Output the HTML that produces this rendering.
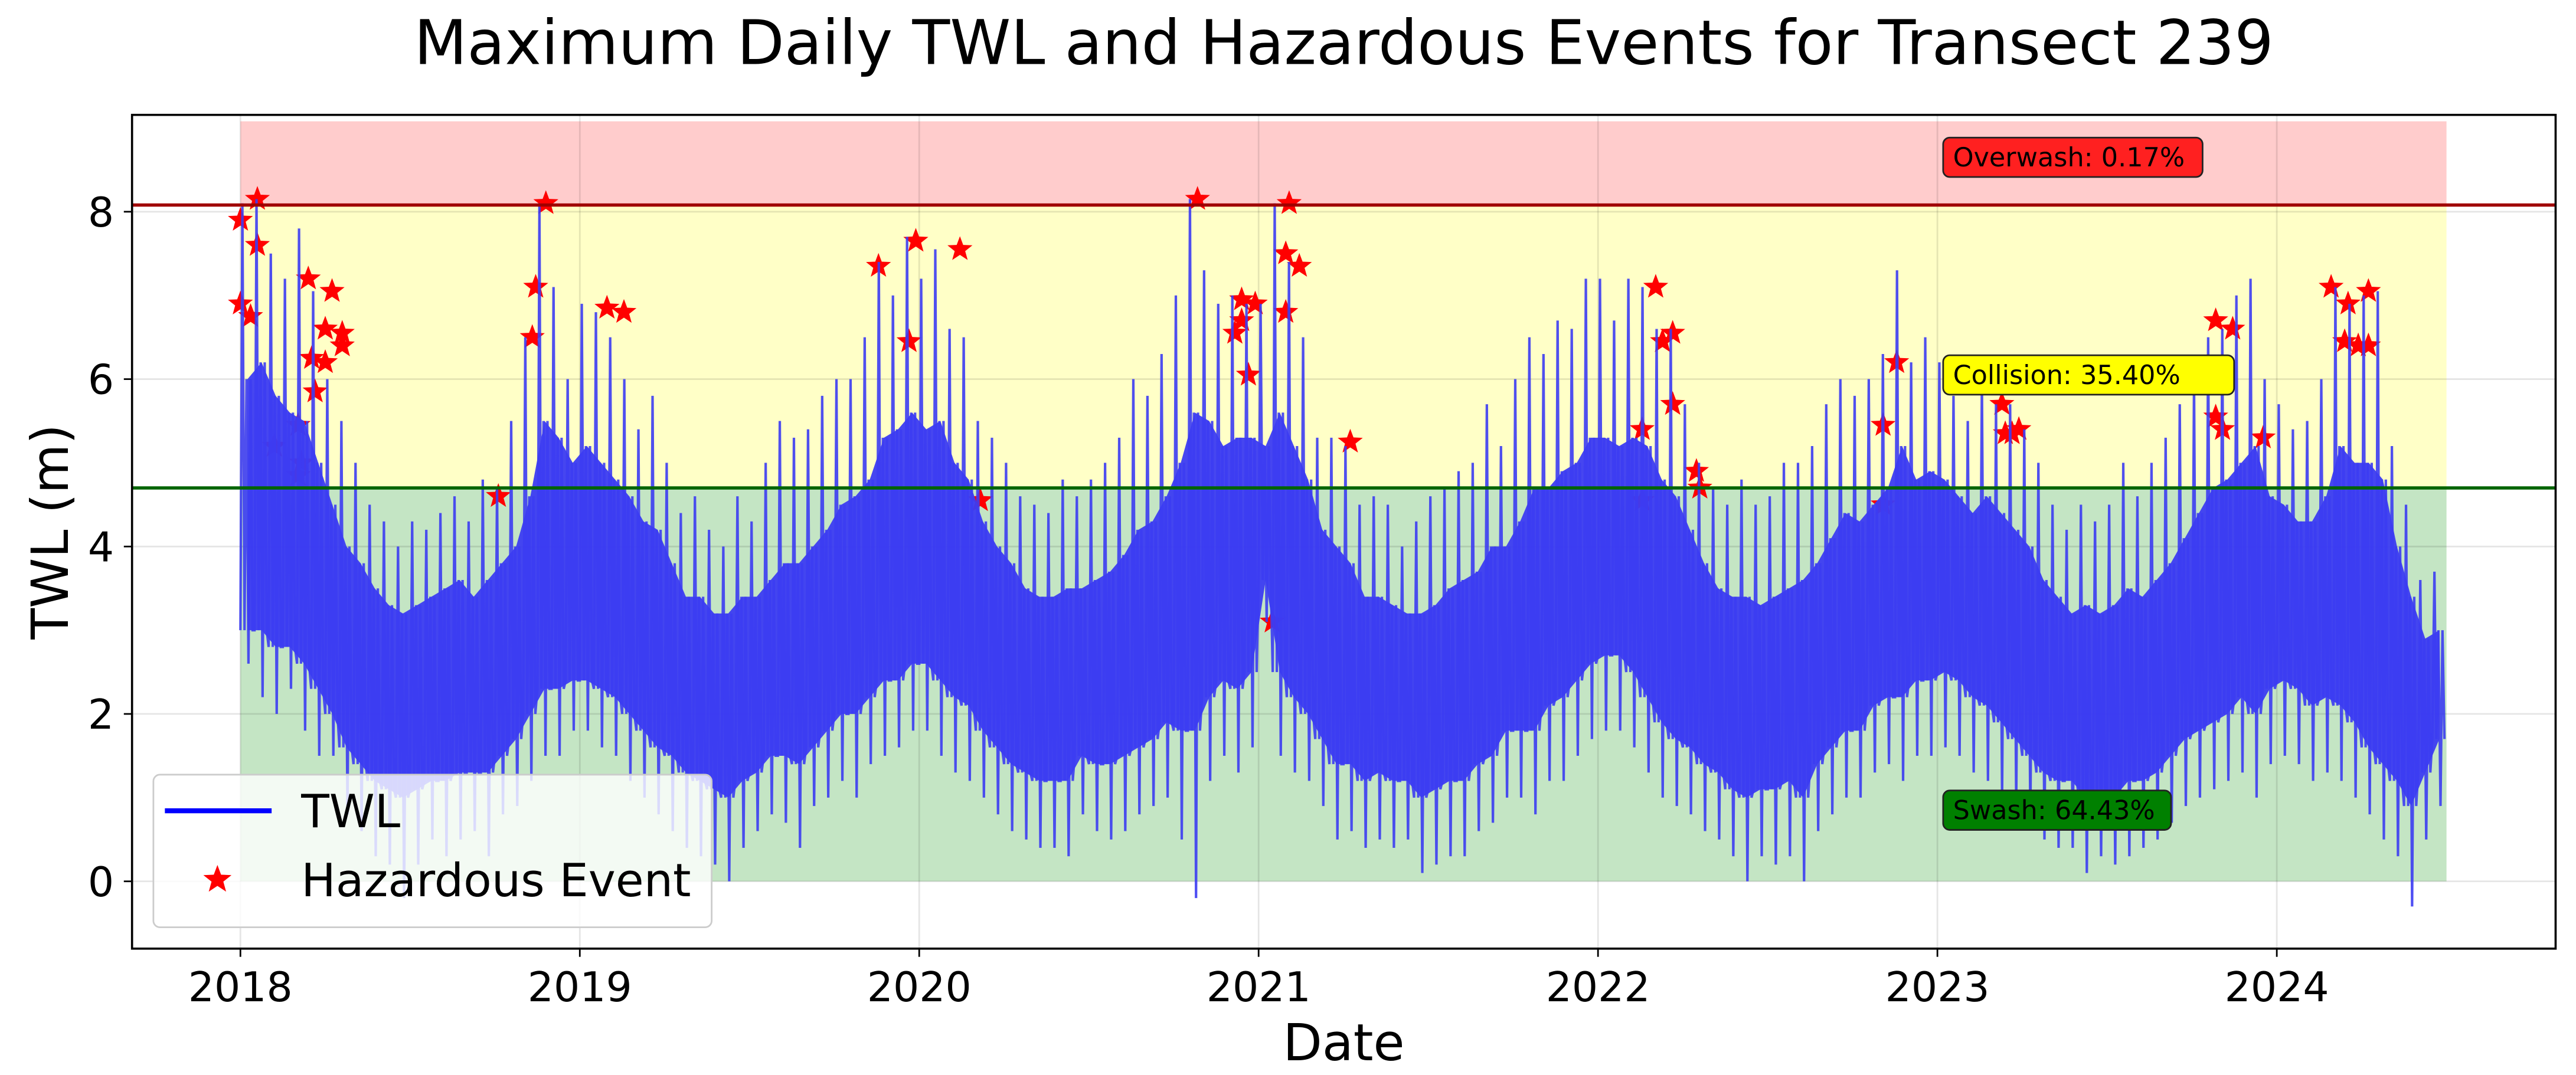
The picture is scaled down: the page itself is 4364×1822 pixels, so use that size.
<!DOCTYPE html>
<html><head><meta charset="utf-8"><style>
html,body{margin:0;padding:0;background:#fff;}
svg{display:block;font-family:"DejaVu Sans","Liberation Sans",sans-serif;}
</style></head><body>
<svg id="chart" width="4364" height="1822" viewBox="0 0 1568 655" xmlns="http://www.w3.org/2000/svg">
<rect width="1568" height="655" fill="#fff"/>
<g id="plot"></g>
</svg>
<script>
// ---- data ----
const xTicks = [2018, 2019, 2020, 2021, 2022, 2023, 2024];
const yTicks = [0, 2, 4, 6, 8];
const periodStart = 2018;
const periodsPerYear = 24;
// semi-monthly peak spikes
const twlHigh = [
8.1,8.15,7.5,7.2,7.8,7.05,6.0,5.5,5.0,4.5,4.3,4.0,4.3,4.2,4.4,4.6,4.3,4.8,4.7,5.5,6.5,8.1,7.1,6.0,
6.9,6.8,6.5,6.0,5.4,5.8,5.0,4.4,4.6,4.2,4.0,4.6,4.3,5.0,5.5,5.3,5.4,5.8,6.0,6.0,6.5,7.4,7.0,7.7,
7.2,7.55,6.6,6.5,5.5,5.3,5.0,4.6,4.5,4.4,4.8,4.6,4.8,5.0,5.3,6.0,5.8,6.3,7.0,8.15,7.3,6.9,7.0,6.9,
6.9,8.1,7.4,6.5,5.3,5.3,5.2,4.5,4.6,4.5,4.0,4.3,4.6,4.7,4.9,5.0,5.7,5.2,6.0,6.5,6.3,6.7,6.6,7.2,
7.2,6.7,7.2,7.1,6.6,6.6,5.7,5.0,4.7,4.5,4.8,4.5,4.6,5.0,5.0,5.2,5.7,6.0,5.8,6.0,6.3,7.3,6.2,6.5,
6.2,5.8,5.5,6.0,5.7,5.7,5.4,5.0,4.5,4.2,4.5,4.3,4.5,5.0,4.6,5.0,5.3,5.7,6.0,6.5,6.6,7.0,7.2,6.0,
5.7,5.4,5.5,6.0,7.1,6.9,7.0,7.05,5.2,4.5,3.6,3.7];
// semi-monthly typical upper level
const twlUpper = [
6.0,6.2,5.8,5.6,5.5,5.0,4.5,4.0,3.8,3.5,3.3,3.2,3.3,3.4,3.5,3.6,3.4,3.6,3.8,4.0,4.6,5.5,5.3,5.0,
5.2,5.0,4.8,4.6,4.3,4.2,3.8,3.4,3.4,3.2,3.2,3.4,3.4,3.6,3.8,3.8,4.0,4.2,4.5,4.6,4.8,5.3,5.4,5.6,
5.4,5.5,5.0,4.8,4.3,4.0,3.8,3.5,3.4,3.4,3.5,3.5,3.6,3.7,3.9,4.2,4.3,4.6,5.0,5.6,5.5,5.2,5.3,5.3,
5.2,5.6,5.2,4.8,4.2,4.0,3.8,3.4,3.4,3.3,3.2,3.2,3.3,3.5,3.6,3.7,4.0,4.0,4.3,4.7,4.7,4.9,5.0,5.3,
5.3,5.2,5.3,5.2,4.8,4.6,4.2,3.8,3.5,3.4,3.4,3.3,3.4,3.5,3.6,3.8,4.1,4.4,4.3,4.5,4.7,5.2,4.8,4.9,
4.8,4.6,4.4,4.6,4.4,4.2,4.0,3.6,3.4,3.2,3.3,3.2,3.3,3.5,3.4,3.6,3.8,4.1,4.4,4.7,4.8,5.0,5.2,4.6,
4.5,4.3,4.3,4.6,5.2,5.0,5.0,4.8,4.0,3.4,2.9,3.0];
// semi-monthly typical lower level
const twlFloor = [
3.0,3.0,2.8,2.8,2.6,2.3,2.0,1.6,1.4,1.2,1.1,1.0,1.1,1.2,1.2,1.3,1.3,1.3,1.5,1.7,2.0,2.3,2.3,2.4,
2.4,2.3,2.2,2.0,1.8,1.6,1.5,1.3,1.2,1.1,1.0,1.2,1.3,1.5,1.5,1.4,1.6,1.8,2.0,2.0,2.2,2.4,2.4,2.6,
2.6,2.4,2.2,2.1,1.8,1.6,1.4,1.3,1.2,1.2,1.2,1.5,1.4,1.4,1.5,1.6,1.7,1.9,1.8,1.8,2.2,2.4,2.3,2.5,
3.6,2.5,2.2,2.0,1.7,1.4,1.4,1.2,1.3,1.2,1.2,1.0,1.1,1.2,1.2,1.4,1.5,1.8,1.8,1.8,2.1,2.2,2.4,2.6,
2.7,2.7,2.5,2.2,1.9,1.7,1.6,1.4,1.3,1.1,1.0,1.1,1.1,1.2,1.0,1.4,1.6,1.8,1.8,2.1,2.2,2.2,2.4,2.4,
2.5,2.4,2.2,2.1,1.9,1.7,1.5,1.3,1.2,1.2,1.0,1.1,1.0,1.2,1.2,1.3,1.5,1.7,1.8,1.9,2.0,2.2,2.0,2.3,
2.4,2.3,2.1,2.2,2.1,1.9,1.6,1.4,1.2,0.9,1.3,1.7];
// semi-monthly minimum dips
const twlLow = [
2.6,2.2,2.0,2.3,1.8,1.5,1.5,0.8,0.6,0.3,0.2,-0.2,0.2,0.5,0.3,0.5,0.6,0.3,0.8,0.9,1.2,1.5,1.5,1.8,
1.8,1.6,1.5,1.2,1.0,0.8,0.6,0.4,0.3,0.2,0.0,0.4,0.6,0.8,0.7,0.4,0.9,1.0,1.2,1.0,1.4,1.5,1.6,1.8,
1.8,1.5,1.3,1.2,1.0,0.8,0.6,0.5,0.4,0.4,0.3,0.8,0.6,0.5,0.6,0.8,0.9,1.0,0.5,-0.2,1.2,1.5,1.3,1.6,
3.1,1.5,1.3,1.2,0.9,0.5,0.6,0.4,0.5,0.4,0.5,0.1,0.2,0.3,0.3,0.6,0.7,1.0,1.0,0.8,1.2,1.2,1.5,1.7,
1.8,1.8,1.6,1.3,1.0,0.9,0.8,0.6,0.5,0.3,0.0,0.3,0.2,0.3,0.0,0.6,0.8,1.0,1.0,1.3,1.4,1.2,1.5,1.5,
1.6,1.5,1.3,1.2,1.0,0.9,0.7,0.5,0.4,0.4,0.1,0.3,0.2,0.3,0.4,0.5,0.7,0.9,1.0,1.1,1.2,1.3,1.0,1.4,
1.5,1.4,1.2,1.3,1.2,1.0,0.8,0.5,0.3,-0.3,0.5,0.9];
const eventDates = [2018.0,2018.0,2018.03,2018.05,2018.05,2018.1,2018.17,2018.17,2018.18,2018.2,2018.21,2018.22,2018.25,2018.25,2018.27,2018.3,2018.3,2018.76,2018.86,2018.87,2018.9,
2019.08,2019.13,2019.88,2019.97,2019.99,
2020.12,2020.18,2020.82,2020.93,2020.95,2020.95,2020.97,2020.99,2021.04,2021.08,2021.08,2021.09,2021.12,2021.27,
2022.13,2022.13,2022.17,2022.19,2022.22,2022.22,2022.29,2022.3,2022.84,2022.84,2022.88,
2023.19,2023.2,2023.22,2023.24,2023.82,2023.82,2023.84,2023.87,2023.96,
2024.16,2024.2,2024.21,2024.24,2024.27,2024.27];
const eventValues = [7.9,6.9,6.75,8.15,7.6,5.2,5.45,4.85,5.0,7.2,6.25,5.85,6.6,6.2,7.05,6.55,6.4,4.6,6.5,7.1,8.1,
6.85,6.8,7.35,6.45,7.65,
7.55,4.55,8.15,6.55,6.7,6.95,6.05,6.9,3.1,6.8,7.5,8.1,7.35,5.25,
5.4,4.55,7.1,6.45,6.55,5.7,4.9,4.7,5.45,4.5,6.2,
5.7,5.35,5.35,5.4,6.7,5.55,5.4,6.6,5.3,
7.1,6.45,6.9,6.4,7.05,6.4];
const thresholds = [4.7, 8.08, 9.08];
const bandLabels = ["Swash: 64.43%", "Collision: 35.40%", "Overwash: 0.17%"];
const bandRange = [2018.0, 2024.5];

(function(){
const L=80,R=1556,T=70,B=578;
const X = t => 146 + (t-2018)*206.7;
const Y = v => 537 - v*51;
const NS="http://www.w3.org/2000/svg";
const g=document.getElementById('plot');
function el(tag,attrs,parent){const e=document.createElementNS(NS,tag);for(const k in attrs)e.setAttribute(k,attrs[k]);(parent||g).appendChild(e);return e;}

const x0=X(bandRange[0]), x1=X(bandRange[1]);
let b=el('rect',{x:x0,y:Y(thresholds[0]),width:x1-x0,height:Y(0)-Y(thresholds[0]),fill:'#2ca02c','fill-opacity':0.28});


b=el('rect',{x:x0,y:Y(thresholds[1]),width:x1-x0,height:Y(thresholds[0])-Y(thresholds[1]),fill:'#ffff00','fill-opacity':0.22});


b=el('rect',{x:x0,y:Y(thresholds[2]),width:x1-x0,height:Y(thresholds[1])-Y(thresholds[2]),fill:'#ff0000','fill-opacity':0.2});



xTicks.forEach(t=>{const l=el('line',{x1:X(t),x2:X(t),y1:T,y2:B,stroke:'#000','stroke-opacity':0.1,'stroke-width':1});

});
yTicks.forEach(v=>{const l=el('line',{x1:L,x2:R,y1:Y(v),y2:Y(v),stroke:'#000','stroke-opacity':0.1,'stroke-width':1});

});

function starPath(cx,cy,r){let p='';for(let i=0;i<10;i++){const a=-Math.PI/2+i*Math.PI/5;const rr=i%2?r*0.42:r;p+=(i?'L':'M')+(cx+rr*Math.cos(a)).toFixed(2)+','+(cy+rr*Math.sin(a)).toFixed(2);}return p+'Z';}
eventDates.forEach((d,i)=>{const s=el('path',{d:starPath(X(d),Y(eventValues[i]),8),fill:'#ff0000'});

});

const n=twlHigh.length, dt=1/periodsPerYear;
let upper=[],lower=[],zz=[];
for(let i=0;i<n;i++){const t=periodStart+i*dt;
 upper.push(X(t+dt/2).toFixed(1)+','+Y(twlUpper[i]).toFixed(1));
 lower.unshift(X(t+dt/2).toFixed(1)+','+Y(twlFloor[i]).toFixed(1));
 const seq=[twlFloor[i],twlHigh[i],twlFloor[i],twlUpper[i],twlLow[i],twlUpper[i],twlFloor[i]];
 seq.forEach((v,k)=>zz.push(X(t+dt*k/7).toFixed(1)+','+Y(v).toFixed(1)));
}
const area=el('polygon',{points:upper.concat(lower).join(' '),fill:'#3c3cf2','fill-opacity':0.95});


const line=el('polyline',{points:zz.join(' '),fill:'none',stroke:'#3c3cf2','stroke-opacity':0.9,'stroke-width':1.5,'stroke-linejoin':'miter'});



let h=el('line',{x1:L,x2:R,y1:Y(thresholds[1]),y2:Y(thresholds[1]),stroke:'#a00000','stroke-width':2});


h=el('line',{x1:L,x2:R,y1:Y(thresholds[0]),y2:Y(thresholds[0]),stroke:'#006400','stroke-width':2});



const labelFill=['#008000','#ffff00','#ff2020'];
const labelVal=[0.85,6.05,8.65];
const labelNames=['swash-label','collision-label','overwash-label'];
bandLabels.forEach((txt,i)=>{const w=txt.length*9.6+14;
 const r=el('rect',{x:1183,y:Y(labelVal[i])-12,width:w,height:24,rx:4,fill:labelFill[i],stroke:'#222','stroke-width':1});
 
 
 const t=el('text',{x:1189,y:Y(labelVal[i])+5.5,'font-size':16,fill:'#000'});t.textContent=txt;
 
 });

const f=el('rect',{x:L,y:T,width:R-L,height:B-T,fill:'none',stroke:'#000','stroke-width':1.3});


xTicks.forEach(t=>{el('line',{x1:X(t),x2:X(t),y1:B,y2:B+5,stroke:'#000','stroke-width':1});
 const tx=el('text',{x:X(t),y:610,'font-size':25,'text-anchor':'middle'});tx.textContent=t;
 
 });
yTicks.forEach(v=>{el('line',{x1:L-5,x2:L,y1:Y(v),y2:Y(v),stroke:'#000','stroke-opacity':1,'stroke-width':1});
 const tx=el('text',{x:69,y:Y(v)+9,'font-size':25,'text-anchor':'end'});tx.textContent=v;
 
 });

const lg=el('rect',{x:93,y:472,width:340,height:93,rx:4,fill:'#fff','fill-opacity':0.8,stroke:'#ccc','stroke-width':1});


const ll=el('line',{x1:100,x2:165,y1:494,y2:494,stroke:'#0000ff','stroke-width':3});


let lt=el('text',{x:183,y:504,'font-size':28});lt.textContent='TWL';


const ls=el('path',{d:starPath(132,536,9),fill:'#ff0000'});


lt=el('text',{x:183,y:546,'font-size':28});lt.textContent='Hazardous Event';



let tt=el('text',{x:818,y:39,'font-size':37.5,'text-anchor':'middle'});tt.textContent='Maximum Daily TWL and Hazardous Events for Transect 239';


tt=el('text',{x:818,y:646,'font-size':31,'text-anchor':'middle'});tt.textContent='Date';


tt=el('text',{x:0,y:0,'font-size':31,'text-anchor':'middle',transform:'translate(41,324) rotate(-90)'});tt.textContent='TWL (m)';


})();
</script>
</body></html>
